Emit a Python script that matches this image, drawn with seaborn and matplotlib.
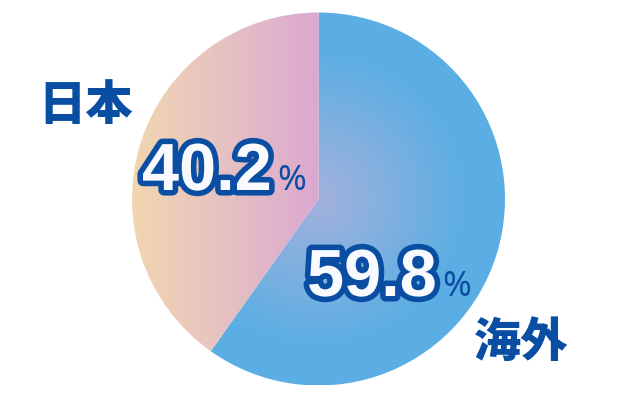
import numpy as np
import matplotlib
matplotlib.use("Agg")
import matplotlib.pyplot as plt
import matplotlib.patheffects as pe
from matplotlib.colors import LinearSegmentedColormap
import seaborn as sns

# data
labels = ["海外", "日本"]
shares = [59.8, 40.2]

sns.set_theme(style="white")
plt.rcParams["font.family"] = ["Noto Sans CJK JP", "DejaVu Sans"]

W, H = 640, 400
CX, CY, R = 318.5, 199, 186.5

fig = plt.figure(figsize=(6.4, 4.0), dpi=100)
ax = fig.add_axes([0, 0, 1, 1])


def px(x, y):
    return x / W, 1 - y / H


wedges, _ = ax.pie(shares, startangle=90, counterclock=False, radius=1,
                   colors=["none", "none"], wedgeprops=dict(linewidth=0))
ax.axis("off")

# gradient fills clipped to the wedges
n = 400
xs = np.linspace(-1, 1, n)
gx, gy = np.meshgrid(xs, xs)
rr = np.clip(np.hypot(gx, gy) / 0.8, 0, 1)
blue_cmap = LinearSegmentedColormap.from_list("blue", ["#a3b1dd", "#7fb0e0", "#5baee3"])
im = ax.imshow(rr, cmap=blue_cmap, extent=[-1, 1, -1, 1], origin="lower",
               interpolation="bilinear", zorder=1)
im.set_clip_path(wedges[0])

pink_cmap = LinearSegmentedColormap.from_list("pink", ["#f1d6b0", "#e6c1c2", "#dba8d0"])
lin = np.tile(np.linspace(0, 1, n), (n, 1))
im2 = ax.imshow(lin, cmap=pink_cmap, extent=[-1, 0, -1, 1], origin="lower",
                interpolation="bilinear", zorder=1)
im2.set_clip_path(wedges[1])
ax.set_xlim(-CX / R, (W - CX) / R)
ax.set_ylim(-(H - CY) / R, CY / R)

outline = [pe.Stroke(linewidth=8, foreground="#0a4ea3"), pe.Normal()]
num_style = dict(family="Liberation Sans", fontweight="bold", fontsize=48,
                 color="#f8faff", path_effects=outline, transform=fig.transFigure,
                 va="baseline", ha="left")
pct_style = dict(family="Noto Sans", fontweight="semibold", fontsize=25,
                 color="#0a4ea3", transform=fig.transFigure, va="baseline", ha="left")

# Japan value
ax.text(*px(142, 190), f"{shares[1]:.1f}", **num_style)
ax.text(*px(277, 190), "%", **pct_style)
# overseas value
ax.text(*px(307, 296), f"{shares[0]:.1f}", **num_style)
ax.text(*px(442, 296), "%", **pct_style)

lab_style = dict(fontsize=34, fontweight=900, color="#0a4ea3",
                 transform=fig.transFigure, ha="center", va="center")
ax.text(*px(86, 106), labels[1], **lab_style)
ax.text(*px(521, 343), labels[0], **lab_style)

fig.savefig("out.png", dpi=100)
